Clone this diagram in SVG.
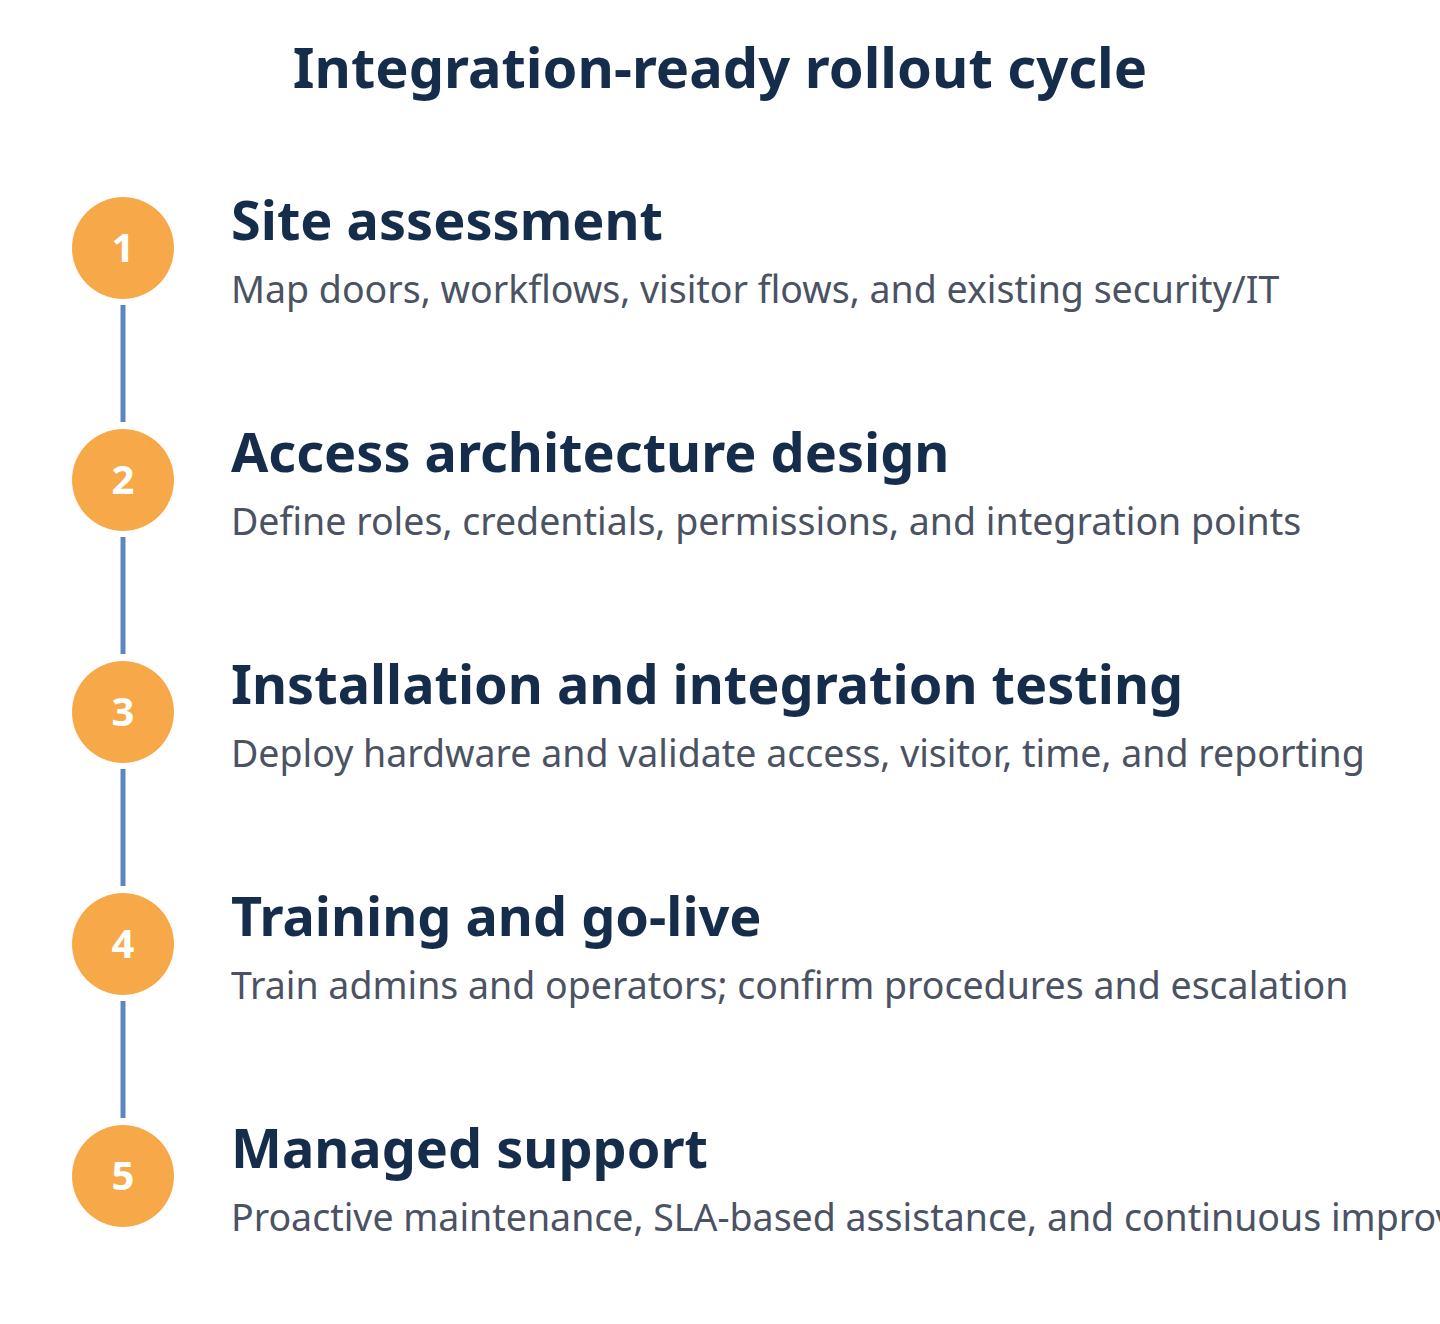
<svg xmlns="http://www.w3.org/2000/svg" width="1440" height="1324" viewBox="0 0 1440 1324">
<style>
.t{font-family:"Noto Sans","Open Sans",sans-serif;font-weight:700;font-size:56px;fill:#152d4a}
.h{font-family:"Noto Sans","Open Sans",sans-serif;font-weight:700;font-size:54px;fill:#152d4a}
.d{font-family:"Noto Sans","Open Sans",sans-serif;font-size:37.5px;fill:#4a5263}
.c{fill:#f7a94a}
.n{font-family:"Noto Sans","Open Sans",sans-serif;font-weight:700;font-size:40px;fill:#ffffff;text-anchor:middle}
.l{stroke:#5b86c0;stroke-width:5}
</style>
<rect width="1440" height="1324" fill="#ffffff"/>
<text class="t" x="720" y="88" text-anchor="middle">Integration-ready rollout cycle</text>
<g id="connectors">
<line class="l" x1="123" y1="305" x2="123" y2="422"/>
<line class="l" x1="123" y1="537" x2="123" y2="654"/>
<line class="l" x1="123" y1="769" x2="123" y2="886"/>
<line class="l" x1="123" y1="1001" x2="123" y2="1118"/>
</g>
<g id="step1"><circle class="c" cx="123" cy="248" r="51"/><text class="n" x="123" y="262">1</text>
<text class="h" x="231" y="240">Site assessment</text><text class="d" x="231" y="303">Map doors, workflows, visitor flows, and existing security/IT</text></g>
<g id="step2"><circle class="c" cx="123" cy="480" r="51"/><text class="n" x="123" y="494">2</text>
<text class="h" x="231" y="472">Access architecture design</text><text class="d" x="231" y="535">Define roles, credentials, permissions, and integration points</text></g>
<g id="step3"><circle class="c" cx="123" cy="712" r="51"/><text class="n" x="123" y="726">3</text>
<text class="h" x="231" y="704">Installation and integration testing</text><text class="d" x="231" y="767">Deploy hardware and validate access, visitor, time, and reporting</text></g>
<g id="step4"><circle class="c" cx="123" cy="944" r="51"/><text class="n" x="123" y="958">4</text>
<text class="h" x="231" y="936">Training and go-live</text><text class="d" x="231" y="999">Train admins and operators; confirm procedures and escalation</text></g>
<g id="step5"><circle class="c" cx="123" cy="1176" r="51"/><text class="n" x="123" y="1190">5</text>
<text class="h" x="231" y="1168">Managed support</text><text class="d" x="231" y="1231">Proactive maintenance, SLA-based assistance, and continuous improvement</text></g>
</svg>
